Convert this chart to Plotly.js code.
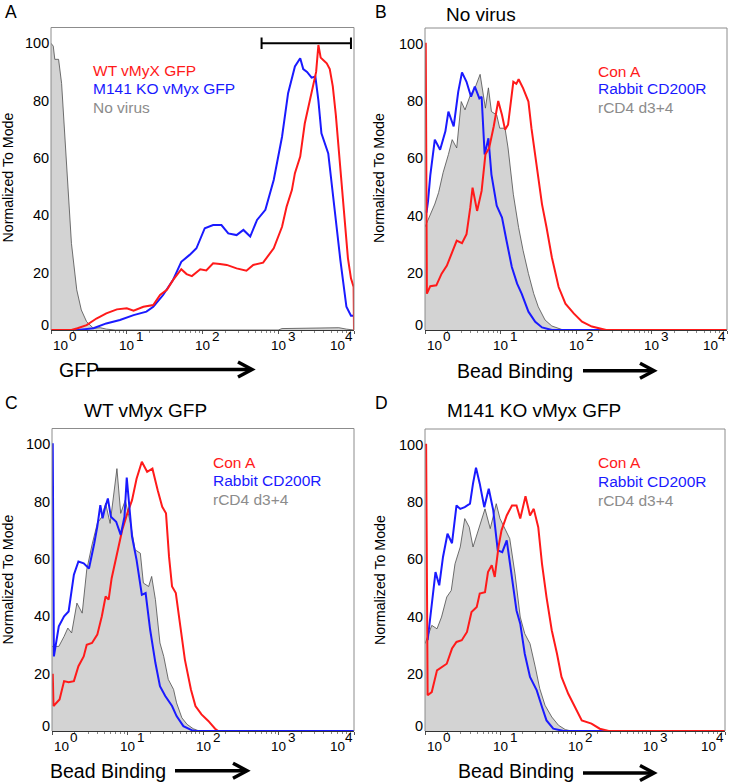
<!DOCTYPE html>
<html><head><meta charset="utf-8">
<script src="https://cdn.plot.ly/plotly-3.0.1.min.js"></script>
<style>html,body{margin:0;padding:0;background:#fff}#chart{width:729px;height:784px}</style>
</head><body><div id="chart"></div>
<script>
// ---------- DATA (x given as log10 of fluorescence, y = % of mode) ----------
// Panel A : GFP
const aRedLog = [0,0.27,0.35,0.47,0.60,0.73,0.87,1.0,1.09,1.22,1.35,1.44,1.53,1.61,1.72,1.79,1.86,1.97,2.05,2.14,2.23,2.32,2.45,2.58,2.67,2.80,2.94,3.05,3.11,3.18,3.22,3.29,3.35,3.44,3.50,3.53,3.56,3.60,3.64,3.68,3.72,3.76,3.80,3.84,3.88,3.92,3.96,3.995,4];
const aRedVal = [0,0,0.6,1.7,4,5.8,7.2,7.6,6.7,8.1,8.7,12.2,14,17.4,21.2,19.5,18.8,21.2,20.8,23.3,23,22.7,21.5,20.7,22.7,23.5,28.5,36,43,48.8,54.7,60.5,72,82.6,90,99.4,95,94,93,91,85,75,62,50,38,25,18,15,0];
const aBlueLog = [0,0.35,0.45,0.56,0.73,0.91,1.09,1.26,1.35,1.48,1.61,1.72,1.83,1.92,2.03,2.14,2.25,2.34,2.45,2.54,2.63,2.72,2.83,2.94,3.05,3.13,3.22,3.29,3.33,3.38,3.44,3.49,3.53,3.57,3.66,3.73,3.82,3.90,3.96,4];
const aBlueVal = [0,0,0.3,0.6,2.3,3.5,5.2,6.4,8.1,12.2,17.4,23.8,26.2,28.5,35.5,36.6,36.6,33.7,33.1,34.9,32.6,38.4,41.9,52.3,67.4,82.6,91.9,94.8,91,90,88,88.4,80,68.6,61.6,45.3,24.4,8.1,5,5];
const aGrayLog = [0,0.03,0.05,0.10,0.14,0.18,0.23,0.27,0.34,0.40,0.47,0.56,0.65,0.73,0.85,3.0,3.05,3.5,3.8,3.9,4];
const aGrayVal = [100,99,94.4,94.4,86,68.6,47.7,30.2,14,7,2.9,0.6,0.8,0.3,0,0,0.5,0.6,0.8,0.3,0];
// Panel B : No virus
const bRedLog = [0,0.01,0.025,0.07,0.15,0.22,0.29,0.35,0.42,0.49,0.55,0.60,0.63,0.69,0.75,0.80,0.85,0.91,0.97,1.02,1.06,1.10,1.17,1.21,1.24,1.30,1.37,1.41,1.48,1.55,1.61,1.68,1.77,1.86,1.97,2.08,2.21,2.34,2.4,4];
const bRedVal = [100,100,12.7,15.3,15.6,19.7,22.5,26.6,31.2,30.3,33.5,42.8,49.7,41.6,48.6,61.3,63.6,71.1,80,75.1,70,71.7,86.7,86,87.6,84.4,79.8,70.5,56.6,43.9,35.8,25.4,15,9.2,5.8,2.9,1.2,0.2,0,0];
const bBlueLog = [0.02,0.04,0.07,0.13,0.20,0.27,0.31,0.38,0.44,0.49,0.55,0.61,0.66,0.72,0.75,0.79,0.84,0.88,0.95,1.02,1.08,1.15,1.22,1.28,1.37,1.46,1.55,1.68,4];
const bBlueVal = [41,45,54,66.5,63,69.4,76.3,71.1,83.2,90,86.7,81.5,85,80.9,81.5,61.3,67,54.3,43.4,39.3,31.2,22,16.2,12.7,6.4,2.9,0.9,0,0];
const bGrayLog = [0,0.07,0.13,0.18,0.24,0.31,0.36,0.42,0.48,0.53,0.60,0.66,0.73,0.80,0.84,0.88,0.95,0.99,1.06,1.10,1.17,1.24,1.30,1.37,1.44,1.50,1.59,1.68,1.81,1.9,4];
const bGrayVal = [36,40.5,44,48,55,61.3,66.5,63.6,79.8,76.9,82,84.4,89.3,77.5,84.6,76.3,75.1,70.5,70.5,63.6,47.4,35.8,27.7,19.7,12.7,8.1,3.5,1.4,0.2,0,0];
// Panel C : WT vMyx GFP
const cRedLog = [0.01,0.02,0.10,0.16,0.22,0.29,0.35,0.42,0.46,0.53,0.60,0.66,0.71,0.75,0.79,0.86,0.93,0.99,1.06,1.12,1.19,1.26,1.33,1.40,1.46,1.51,1.55,1.59,1.64,1.70,1.76,1.84,1.90,1.98,2.07,2.16,2.2,4];
const cRedVal = [20,8.7,11,17.4,17,17.4,22.6,26,30.1,30.7,33.6,40,46.9,45.8,53.3,62,70.1,75.3,80.5,88,93.9,90.4,91.5,84,78.2,75.9,60.8,50.4,48.1,36.5,24.9,14.5,8.7,5.8,3.5,0.8,0,0];
const cBlueLog = [0,0.01,0.025,0.09,0.16,0.22,0.29,0.35,0.42,0.49,0.56,0.60,0.64,0.67,0.70,0.74,0.78,0.85,0.91,0.96,0.99,1.02,1.06,1.12,1.19,1.24,1.30,1.37,1.43,1.50,1.59,1.65,1.74,1.85,1.9,4];
const cBlueVal = [100,100,26,36.5,40,41.7,54.5,59.1,58.5,56.7,65.5,71.3,78.8,74.2,77.6,81.1,74.7,73,68.4,74.7,88.4,79.4,67.8,59.7,47.5,48.1,35.3,23.7,15.6,12.2,8.7,5.2,1.7,0.3,0,0];
const cGrayLog = [0,0.09,0.16,0.21,0.26,0.33,0.40,0.46,0.53,0.60,0.66,0.71,0.77,0.82,0.86,0.91,0.97,1.04,1.10,1.17,1.21,1.28,1.32,1.37,1.43,1.48,1.54,1.61,1.65,1.72,1.79,1.87,1.95,4];
const cGrayVal = [29.5,29.5,33,35.9,34.2,44.6,41.1,56.2,64.9,72.4,74.7,79.4,72.4,84,91.5,75.9,80.5,72.4,63.2,62,51.6,50.4,53.9,45.8,30.7,26,18,14.5,9.8,4.6,2.3,0.8,0,0];
// Panel D : M141 KO vMyx GFP
const dRedLog = [0,0.015,0.035,0.09,0.16,0.22,0.29,0.36,0.42,0.49,0.56,0.62,0.69,0.73,0.80,0.84,0.89,0.93,0.98,1.02,1.09,1.16,1.22,1.27,1.34,1.40,1.45,1.51,1.56,1.62,1.69,1.76,1.82,1.91,2.00,2.09,2.22,2.33,2.45,4];
const dRedVal = [100,100,12.5,13.6,21.2,22.4,23.5,28.8,31.1,31.7,34.6,41.6,43.3,48,48.5,55.5,57.9,53.8,64.3,70.1,75.3,78.8,78.8,74.2,82,75.3,77.6,71.2,58.4,46.8,35.2,27,18.9,13,8.4,3.7,2.6,0.8,0,0];
const dBlueLog = [0.035,0.07,0.11,0.14,0.19,0.24,0.30,0.36,0.42,0.47,0.53,0.60,0.64,0.68,0.73,0.79,0.85,0.91,0.97,1.03,1.09,1.16,1.22,1.27,1.33,1.40,1.49,1.56,1.62,1.71,1.85,4];
const dBlueVal = [31.7,39.8,49.1,55.5,50.9,60.8,68.9,65.6,78.8,77.6,78.2,79.4,86.4,92,86.4,78.2,84.6,77.1,63.1,62.5,66.6,53.8,42.1,37.5,27,18.9,14.2,8.4,3.7,0.8,0,0];
const dGrayLog = [0,0.09,0.16,0.22,0.29,0.35,0.40,0.47,0.53,0.59,0.64,0.71,0.80,0.87,0.95,1.00,1.07,1.13,1.20,1.27,1.33,1.40,1.47,1.53,1.60,1.69,1.78,1.87,1.95,4];
const dGrayVal = [30.5,36.9,35.7,39.8,46.8,49.1,58.4,64.3,74.2,71.2,64.3,70.1,77.6,70.7,79.4,74.2,70.1,67.2,54.9,39.8,34,30.5,22.4,14.8,9,4.9,2,0.5,0,0];

// Text
const panelLetters = ["A","B","C","D"];
const panelTitles = ["","No virus","WT vMyx GFP","M141 KO vMyx GFP"];
const legendA = ["WT vMyX GFP","M141 KO vMyx GFP","No virus"];
const legendBCD = ["Con A","Rabbit CD200R","rCD4 d3+4"];
const xTitles = ["GFP","Bead Binding","Bead Binding","Bead Binding"];
const yTitle = "Normalized To Mode";
const yTicks = [0,20,40,60,80,100];
const xDecades = [0,1,2,3,4];
const gateALog = [2.78, 3.96];

// ---------- LAYOUT ----------
const W=729,H=784;
const FONT='"Liberation Sans", Arial, Helvetica, sans-serif';
const RED='#ff1a1a', BLUE='#1a1aff', GRAYT='#8c8c8c', FILL='#d3d3d3', OUT='#4d4d4d';
const px=x=>x/W, py=y=>1-y/H;
const boxes=[{l:51,r:354,t:27.5,b:330},{l:425,r:727,t:28,b:330},{l:52,r:354,t:428.5,b:731},{l:425,r:725,t:429,b:731}];
const toX = a => a.map(e=>Math.pow(10,e));

const panels = [
  {gray:[aGrayLog,aGrayVal], blue:[aBlueLog,aBlueVal], red:[aRedLog,aRedVal], order:['gray','blue','red']},
  {gray:[bGrayLog,bGrayVal], blue:[bBlueLog,bBlueVal], red:[bRedLog,bRedVal], order:['gray','blue','red']},
  {gray:[cGrayLog,cGrayVal], blue:[cBlueLog,cBlueVal], red:[cRedLog,cRedVal], order:['gray','red','blue']},
  {gray:[dGrayLog,dGrayVal], blue:[dBlueLog,dBlueVal], red:[dRedLog,dRedVal], order:['gray','blue','red']}
];

const traces=[]; const layout={width:W,height:H,margin:{l:0,r:0,t:0,b:0},paper_bgcolor:'#fff',plot_bgcolor:'#fff',
  showlegend:false,font:{family:FONT,color:'#000'},annotations:[],shapes:[]};

panels.forEach((p,i)=>{
  const n=i+1, xs=n===1?'x':'x'+n, ys=n===1?'y':'y'+n;
  const xk=n===1?'xaxis':'xaxis'+n, yk=n===1?'yaxis':'yaxis'+n;
  const bx=boxes[i];
  layout[xk]={type:'log',range:[0,4],domain:[px(bx.l),px(bx.r)],anchor:ys,showgrid:false,zeroline:false,
    showline:true,linecolor:'#333',linewidth:1,layer:'below traces',showticklabels:false,
    tickmode:'linear',tick0:0,dtick:1,ticks:'outside',ticklen:3,tickcolor:'#555',
    minor:{ticks:'outside',ticklen:2,tickcolor:'#888',dtick:'D1',showgrid:false},fixedrange:true};
  layout[yk]={range:[0,105.5],domain:[py(bx.b),py(bx.t)],anchor:xs,showgrid:false,zeroline:false,
    showline:false,showticklabels:false,ticks:'',fixedrange:true};
  p.order.forEach(k=>{
    const [lg,v]=p[k];
    if(k==='gray') traces.push({x:toX(lg),y:v,xaxis:xs,yaxis:ys,type:'scatter',mode:'lines',fill:'tozeroy',
      fillcolor:FILL,line:{color:OUT,width:0.8},hoverinfo:'skip'});
    else traces.push({x:toX(lg),y:v,xaxis:xs,yaxis:ys,type:'scatter',mode:'lines',
      line:{color:k==='red'?RED:BLUE,width:2},hoverinfo:'skip'});
  });
  // frame (left, top, right)
  [[0,0,0,1],[0,1,1,1],[1,0,1,1]].forEach(s=>layout.shapes.push({type:'line',xref:xs+' domain',yref:ys+' domain',
    x0:s[0],y0:s[1],x1:s[2],y1:s[3],line:{color:'#8c8c8c',width:1},layer:'above'}));
  // y tick labels
  yTicks.forEach(t=>layout.annotations.push({xref:xs+' domain',yref:ys,x:0,y:t,xanchor:'right',yanchor:'middle',
    xshift:0,yshift:t===0?5:0,text:String(t),showarrow:false,font:{size:14.5,family:FONT,color:'#000'}}));
  // x tick labels 10^n
  xDecades.forEach(d=>{
    let bAnch='center',bShift=0,eAnch='left',eShift=7.5;
    if(d===0){bAnch='left';bShift=0;eShift=15.5;}
    if(d===4){bAnch='right';bShift=-7;eAnch='right';eShift=1;}
    layout.annotations.push({xref:xs,yref:ys,x:d,y:0,xanchor:bAnch,yanchor:'middle',xshift:bShift,yshift:-15,
      text:'10',showarrow:false,font:{size:13.5,family:FONT,color:'#000'}});
    layout.annotations.push({xref:xs,yref:ys,x:d,y:0,xanchor:eAnch,yanchor:'middle',xshift:eShift,yshift:-6,
      text:String(d),showarrow:false,font:{size:13.5,family:FONT,color:'#000'}});
  });
});

// panel letters, titles, y titles
const letterPos=[[3,0],[373,0],[3,391],[373,391]];
panelLetters.forEach((t,i)=>layout.annotations.push({xref:'paper',yref:'paper',x:px(letterPos[i][0]),y:py(letterPos[i][1]),
  xanchor:'left',yanchor:'top',text:t,showarrow:false,font:{size:17.5,family:FONT,color:'#000'}}));
const titlePos=[[0,0],[480.5,14.5],[145,410],[533.5,410.5]];
panelTitles.forEach((t,i)=>{ if(t) layout.annotations.push({xref:'paper',yref:'paper',x:px(titlePos[i][0]),y:py(titlePos[i][1]),
  xanchor:'center',yanchor:'middle',text:t,showarrow:false,font:{size:19,family:FONT,color:'#000'}});});
const yTitlePos=[[7.5,178],[379,178],[7.5,580],[380,580]];
yTitlePos.forEach(p=>layout.annotations.push({xref:'paper',yref:'paper',x:px(p[0]),y:py(p[1]),xanchor:'center',yanchor:'middle',
  textangle:-90,text:yTitle,showarrow:false,font:{size:14.2,family:FONT,color:'#000'}}));

// legends
const legColors=[RED,BLUE,GRAYT];
const legPos=[[92,[70,88.5,107]],[597,[71,88.5,107.5]],[212,[462.5,481,499.5]],[597,[463,481.5,500]]];
legPos.forEach((lp,i)=>{ const labels=i===0?legendA:legendBCD;
  labels.forEach((t,j)=>layout.annotations.push({xref:'paper',yref:'paper',x:px(lp[0]-1),y:py(lp[1][j]),xanchor:'left',yanchor:'middle',
    text:t,showarrow:false,font:{size:15.5,family:FONT,color:legColors[j]}}));});

// x titles + arrows
const xTitlePos=[[57,369.5,97,252,369.5],[455,371,583,654,370.7],[48,771,175,247,770.7],[456,771,583,654,773]];
xTitles.forEach((t,i)=>{ const q=xTitlePos[i];
  layout.annotations.push({xref:'paper',yref:'paper',x:px(q[0]),y:py(q[1]),xanchor:'left',yanchor:'middle',
    text:t,showarrow:false,font:{size:19.5,family:FONT,color:'#000'}});
  layout.shapes.push({type:'line',xref:'paper',yref:'paper',x0:px(q[2]),y0:py(q[4]),x1:px(q[3]-3),y1:py(q[4]),line:{color:'#000',width:3.5}});
  layout.shapes.push({type:'path',xref:'paper',yref:'paper',
    path:`M ${px(q[3]-14)},${py(q[4]-7.5)} L ${px(q[3])},${py(q[4])} L ${px(q[3]-14)},${py(q[4]+7.5)}`,
    line:{color:'#000',width:3.5}});
});

// gate bar in panel A (shapes on a log axis take data values)
const gateX = toX(gateALog);
layout.shapes.push({type:'line',xref:'x',yref:'y',x0:gateX[0],x1:gateX[1],y0:100,y1:100,line:{color:'#000',width:2}});
gateX.forEach(g=>layout.shapes.push({type:'line',xref:'x',yref:'y',x0:g,x1:g,y0:98,y1:102,line:{color:'#000',width:2}}));

Plotly.newPlot('chart',traces,layout,{staticPlot:true,displayModeBar:false});
</script></body></html>
